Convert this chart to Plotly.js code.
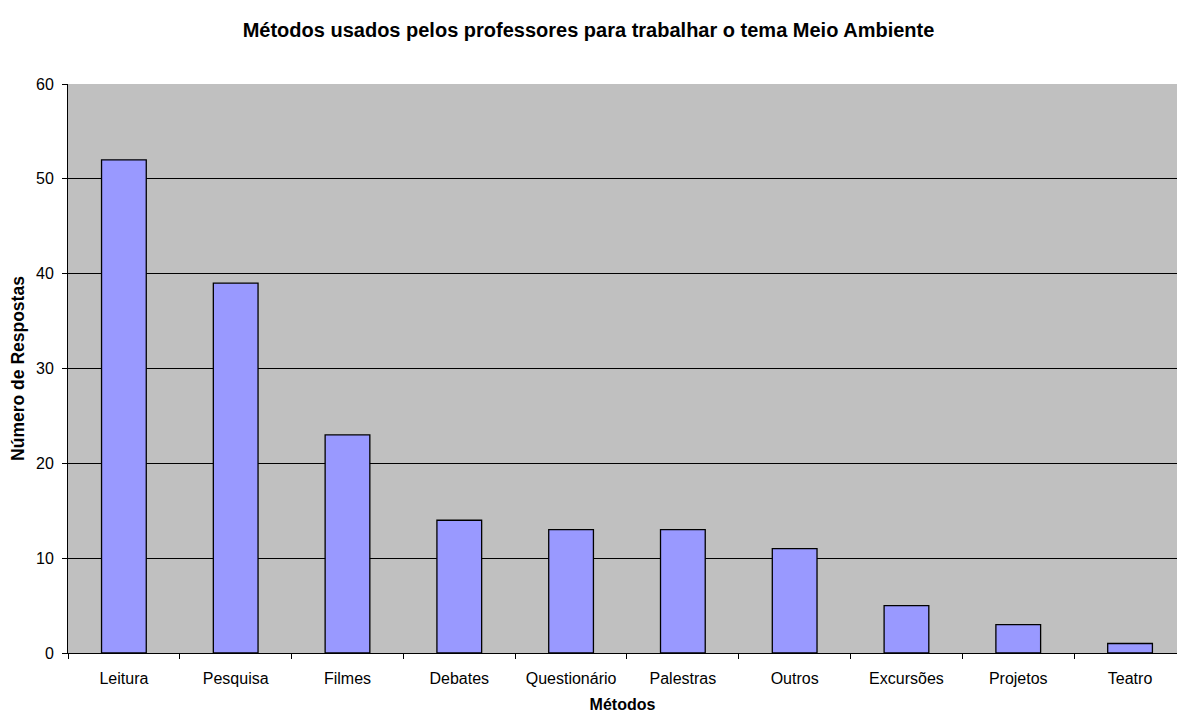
<!DOCTYPE html>
<html><head><meta charset="utf-8">
<script src="https://cdn.plot.ly/plotly-3.0.1.min.js"></script>
<style>html,body{margin:0;padding:0;background:#fff;}#chart{width:1177px;height:713px;}</style>
</head><body><div id="chart"></div>
<script>
const categories = ["Leitura","Pesquisa","Filmes","Debates","Questionário","Palestras","Outros","Excursões","Projetos","Teatro"];
const values = [52,39,23,14,13,13,11,5,3,1];

const font = "Arial, 'Liberation Sans', sans-serif";
Plotly.newPlot('chart', [{
  type: 'bar', x: categories, y: values, width: 0.4,
  marker: {color: '#9999FF', line: {color: '#000000', width: 1.3}},
  hoverinfo: 'x+y'
}], {
  width: 1177, height: 713,
  margin: {l: 68, r: 0, t: 84, b: 60, autoexpand: false},
  paper_bgcolor: '#ffffff', plot_bgcolor: '#C0C0C0',
  font: {family: font, size: 16, color: '#000'},
  title: {text: '<b>Métodos usados pelos professores para trabalhar o tema Meio Ambiente</b>', x: 0.5, xanchor: 'center', y: 0.958, yanchor: 'middle', font: {size: 20, family: font}},
  xaxis: {range: [-0.5, 9.42], showline: true, linecolor: '#000', linewidth: 1, ticks: 'outside', ticklen: 5, tickcolor: '#000', tickson: 'boundaries', showgrid: false,
    ticklabelstandoff: 11, automargin: false,
    title: {text: '<b>Métodos</b>', font: {size: 16}, standoff: 17}, tickfont: {size: 16}},
  yaxis: {range: [0, 60], dtick: 10, showline: true, linecolor: '#000', linewidth: 1, ticks: 'outside', ticklen: 5, tickcolor: '#000', showgrid: true, gridcolor: '#000', gridwidth: 1, zeroline: false,
    ticklabelstandoff: 5, automargin: false,
    title: {text: '<b>Número de Respostas</b>', font: {size: 17.5}, standoff: 6}, tickfont: {size: 16}},
  showlegend: false
}, {displayModeBar: false, staticPlot: true});
</script></body></html>
